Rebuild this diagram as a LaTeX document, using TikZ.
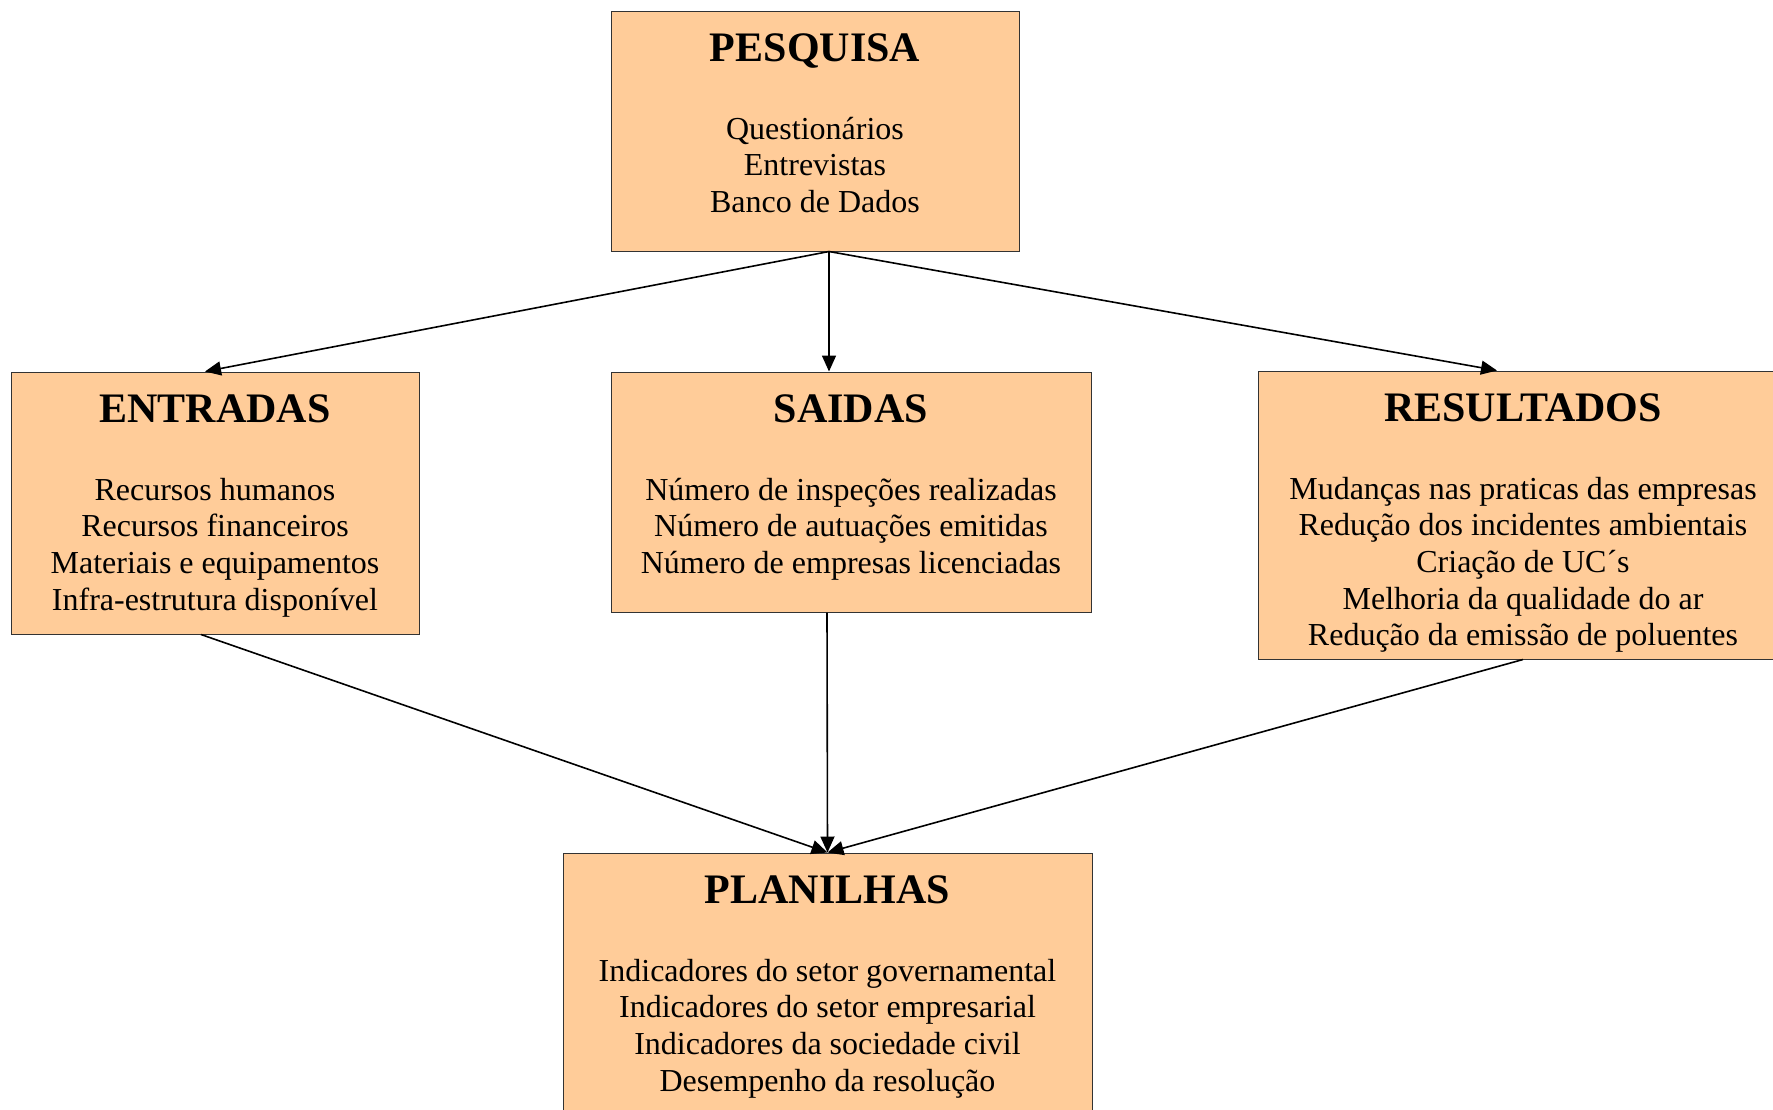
\documentclass[tikz,border=0pt]{standalone}
\usepackage{fontspec}
\setmainfont{Liberation Serif}
\usetikzlibrary{arrows.meta}
\definecolor{laranja}{RGB}{255,204,153}
\newcommand{\titulo}{\fontsize{21}{24}\selectfont\bfseries}
\newcommand{\painel}[4]{\parbox[c][#2][t]{#1}{\centering\vspace*{11.5pt}{\titulo #3}\\[20.3pt]#4}}

\begin{document}
\begin{tikzpicture}[x=0.5pt,y=-0.5pt,
	caixa/.style={draw=black!80,line width=0.5pt,fill=laranja,inner sep=0pt,font=\fontsize{16}{18.35}\selectfont},
	seta/.style={line width=0.8pt,-{Triangle[length=8pt,width=7pt]}}]
	\useasboundingbox (0,0) rectangle (1773,1109);
	\clip (0,0) rectangle (1773,1109);
	\node[caixa] (pesquisa) at (815,131) {\painel{204pt}{120pt}{PESQUISA}{Questionários\\Entrevistas\\Banco de Dados}};
	\node[caixa] (entradas) at (215,503) {\painel{204pt}{131pt}{ENTRADAS}{Recursos humanos\\Recursos financeiros\\Materiais e equipamentos\\Infra-estrutura disponível}};
	\node[caixa] (saidas) at (851,492) {\painel{240pt}{120pt}{SAIDAS}{Número de inspeções realizadas\\Número de autuações emitidas\\Número de empresas licenciadas}};
	\node[caixa] (resultados) at (1523,515) {\painel{265pt}{144pt}{RESULTADOS}{Mudanças nas praticas das empresas\\Redução dos incidentes ambientais\\Criação de UC´s\\Melhoria da qualidade do ar\\Redução da emissão de poluentes}};
	\node[caixa] (planilhas) at (827.5,986.5) {\painel{264.5pt}{133.5pt}{PLANILHAS}{Indicadores do setor governamental\\Indicadores do setor empresarial\\Indicadores da sociedade civil\\Desempenho da resolução}};
	\draw[seta] ([xshift=7pt]pesquisa.south) -- ([xshift=-5pt]entradas.north);
	\draw[seta] ([xshift=7pt]pesquisa.south) -- ([xshift=-11pt]saidas.north);
	\draw[seta] ([xshift=7pt]pesquisa.south) -- ([xshift=-13pt]resultados.north);
	\draw[seta] ([xshift=-7pt]entradas.south) -- (planilhas.north);
	\draw[seta] ([xshift=-12pt]saidas.south) -- (planilhas.north);
	\draw[seta] (resultados.south) -- (planilhas.north);
\end{tikzpicture}
\end{document}
